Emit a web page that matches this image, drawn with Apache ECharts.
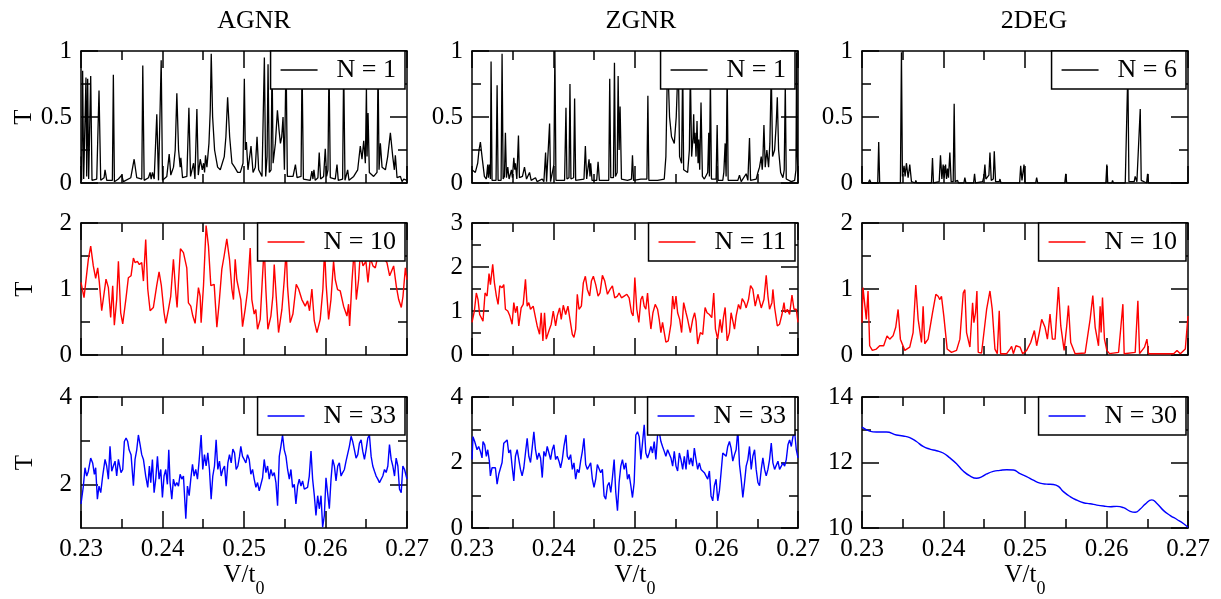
<!DOCTYPE html>
<html>
<head>
<meta charset="utf-8">
<script src="https://cdn.jsdelivr.net/npm/echarts@6/dist/echarts.min.js"></script>
<style>html,body{margin:0;padding:0;background:#fff}#c{width:1221px;height:599px}</style>
</head>
<body>
<div id="c"></div>
<script>
const panelTitles = ['AGNR', 'ZGNR', '2DEG'];
const xTickLabels = ['0.23', '0.24', '0.25', '0.26', '0.27'];
const seriesNames = ['N = 1', 'N = 1', 'N = 6', 'N = 10', 'N = 11', 'N = 10', 'N = 33', 'N = 33', 'N = 30'];

const agnrN1 = [[0.23000,0.20],[0.23008,0.02],[0.23020,0.85],[0.23033,0.03],[0.23049,0.04],[0.23061,0.80],[0.23070,0.05],[0.23082,0.79],[0.23094,0.03],[0.23119,0.81],[0.23135,0.02],[0.23193,0.03],[0.23221,0.70],[0.23242,0.02],[0.23283,0.04],[0.23295,0.10],[0.23316,0.02],[0.23385,0.02],[0.23397,0.82],[0.23410,0.01],[0.23459,0.03],[0.23500,0.06],[0.23520,0.01],[0.23611,0.04],[0.23652,0.18],[0.23684,0.04],[0.23746,0.03],[0.23758,0.89],[0.23775,0.02],[0.23828,0.04],[0.23848,0.08],[0.23861,0.03],[0.23877,0.08],[0.23898,0.03],[0.23930,0.52],[0.23951,0.02],[0.23984,0.93],[0.24000,0.02],[0.24053,0.05],[0.24082,0.22],[0.24102,0.06],[0.24135,0.12],[0.24156,0.25],[0.24176,0.68],[0.24197,0.25],[0.24217,0.12],[0.24225,0.19],[0.24246,0.04],[0.24299,0.05],[0.24324,0.57],[0.24344,0.05],[0.24381,0.15],[0.24398,0.03],[0.24422,0.56],[0.24439,0.06],[0.24463,0.18],[0.24488,0.10],[0.24504,0.15],[0.24516,0.08],[0.24528,0.21],[0.24545,0.12],[0.24570,0.30],[0.24586,0.55],[0.24598,0.98],[0.24615,0.50],[0.24639,0.25],[0.24676,0.12],[0.24709,0.10],[0.24729,0.09],[0.24758,0.20],[0.24778,0.35],[0.24799,0.65],[0.24824,0.35],[0.24852,0.15],[0.24885,0.12],[0.24922,0.08],[0.24955,0.08],[0.24988,0.15],[0.25004,0.79],[0.25016,0.25],[0.25029,0.31],[0.25049,0.10],[0.25086,0.28],[0.25111,0.08],[0.25139,0.12],[0.25160,0.35],[0.25180,0.10],[0.25221,0.05],[0.25250,0.95],[0.25266,0.05],[0.25283,0.20],[0.25295,0.90],[0.25311,0.08],[0.25332,0.10],[0.25344,0.95],[0.25357,0.15],[0.25385,0.30],[0.25410,0.55],[0.25430,0.40],[0.25447,0.30],[0.25463,0.35],[0.25479,0.50],[0.25496,0.10],[0.25516,0.95],[0.25532,0.05],[0.25602,0.05],[0.25631,0.14],[0.25651,0.04],[0.25700,0.05],[0.25712,0.90],[0.25729,0.03],[0.25813,0.02],[0.25833,0.09],[0.25846,0.03],[0.25858,0.10],[0.25874,0.02],[0.25907,0.04],[0.25923,0.23],[0.25940,0.03],[0.25977,0.05],[0.25997,0.26],[0.26014,0.05],[0.26030,0.10],[0.26043,0.90],[0.26059,0.04],[0.26120,0.03],[0.26141,0.14],[0.26157,0.02],[0.26210,0.03],[0.26223,0.90],[0.26239,0.02],[0.26272,0.10],[0.26288,0.02],[0.26346,0.05],[0.26395,0.10],[0.26427,0.28],[0.26448,0.18],[0.26469,0.32],[0.26489,0.15],[0.26502,0.72],[0.26510,0.20],[0.26522,0.53],[0.26538,0.08],[0.26591,0.05],[0.26632,0.08],[0.26645,0.90],[0.26657,0.10],[0.26673,0.30],[0.26694,0.12],[0.26735,0.10],[0.26763,0.20],[0.26796,0.38],[0.26825,0.20],[0.26845,0.10],[0.26857,0.21],[0.26878,0.04],[0.26919,0.05],[0.26939,0.01],[0.26960,0.03],[0.27000,0.02]];

const zgnrN1 = [[0.23000,0.10],[0.23041,0.08],[0.23070,0.15],[0.23086,0.25],[0.23103,0.31],[0.23123,0.20],[0.23152,0.05],[0.23176,0.03],[0.23193,0.14],[0.23201,0.04],[0.23213,0.14],[0.23226,0.03],[0.23234,0.92],[0.23246,0.02],[0.23295,0.02],[0.23308,0.74],[0.23320,0.02],[0.23357,0.02],[0.23369,0.98],[0.23382,0.03],[0.23398,0.05],[0.23410,0.38],[0.23423,0.04],[0.23439,0.12],[0.23455,0.03],[0.23484,0.10],[0.23496,0.04],[0.23513,0.19],[0.23525,0.10],[0.23533,0.15],[0.23550,0.03],[0.23570,0.36],[0.23582,0.04],[0.23619,0.05],[0.23644,0.12],[0.23669,0.03],[0.23706,0.08],[0.23726,0.02],[0.23779,0.04],[0.23800,0.01],[0.23862,0.03],[0.23882,0.01],[0.23903,0.23],[0.23915,0.01],[0.23939,0.02],[0.23952,0.45],[0.23964,0.01],[0.24005,0.14],[0.24017,1.00],[0.24030,0.02],[0.24136,0.02],[0.24153,0.57],[0.24165,0.03],[0.24190,0.04],[0.24202,0.75],[0.24214,0.03],[0.24247,0.04],[0.24259,0.64],[0.24272,0.02],[0.24292,0.02],[0.24374,0.03],[0.24391,0.28],[0.24407,0.03],[0.24436,0.18],[0.24448,0.05],[0.24456,0.15],[0.24473,0.02],[0.24530,0.02],[0.24547,0.16],[0.24563,0.02],[0.24678,0.02],[0.24690,0.79],[0.24703,0.04],[0.24735,0.04],[0.24748,0.91],[0.24760,0.05],[0.24781,0.08],[0.24793,0.81],[0.24805,0.25],[0.24817,0.58],[0.24834,0.03],[0.24908,0.02],[0.24957,0.03],[0.24969,0.21],[0.24982,0.02],[0.25072,0.03],[0.25146,0.03],[0.25158,0.66],[0.25170,0.02],[0.25277,0.02],[0.25359,0.03],[0.25379,0.20],[0.25400,0.95],[0.25424,0.50],[0.25448,0.35],[0.25482,0.30],[0.25506,0.50],[0.25531,0.95],[0.25547,0.20],[0.25572,0.15],[0.25585,0.90],[0.25597,0.10],[0.25646,0.08],[0.25667,0.25],[0.25679,0.85],[0.25695,0.20],[0.25712,0.35],[0.25720,0.52],[0.25728,0.30],[0.25737,0.38],[0.25749,0.20],[0.25761,0.47],[0.25774,0.15],[0.25782,0.33],[0.25794,0.10],[0.25810,0.61],[0.25827,0.05],[0.25851,0.03],[0.25892,0.08],[0.25905,0.38],[0.25913,0.05],[0.25925,0.80],[0.25938,0.03],[0.25995,0.03],[0.26008,0.44],[0.26020,0.02],[0.26077,0.02],[0.26090,0.08],[0.26106,0.30],[0.26118,0.05],[0.26131,0.85],[0.26143,0.02],[0.26262,0.02],[0.26282,0.06],[0.26303,0.01],[0.26364,0.07],[0.26385,0.02],[0.26405,0.34],[0.26418,0.02],[0.26487,0.03],[0.26508,0.08],[0.26528,0.12],[0.26549,0.20],[0.26561,0.10],[0.26569,0.18],[0.26582,0.44],[0.26598,0.12],[0.26618,0.25],[0.26639,0.12],[0.26655,0.30],[0.26672,0.85],[0.26688,0.20],[0.26713,0.25],[0.26733,0.45],[0.26746,0.65],[0.26762,0.25],[0.26787,0.08],[0.26815,0.04],[0.26831,0.10],[0.26844,0.75],[0.26856,0.03],[0.26918,0.01],[0.26959,0.02],[0.26975,0.10],[0.26983,0.99],[0.26992,0.20],[0.27000,0.05]];

const degN6 = [[0.23000,0.00],[0.23078,0.00],[0.23094,0.025],[0.23111,0.00],[0.23193,0.00],[0.23205,0.31],[0.23217,0.00],[0.23471,0.00],[0.23484,0.99],[0.23496,0.05],[0.23516,0.13],[0.23529,0.05],[0.23545,0.15],[0.23566,0.04],[0.23586,0.14],[0.23607,0.01],[0.23652,0.00],[0.23660,0.02],[0.23672,0.00],[0.23852,0.00],[0.23865,0.19],[0.23877,0.00],[0.23947,0.01],[0.23963,0.21],[0.23980,0.03],[0.23996,0.14],[0.24008,0.04],[0.24025,0.14],[0.24037,0.03],[0.24049,0.11],[0.24061,0.04],[0.24078,0.23],[0.24094,0.01],[0.24119,0.01],[0.24131,0.60],[0.24143,0.01],[0.24172,0.02],[0.24184,0.00],[0.24250,0.00],[0.24262,0.04],[0.24275,0.00],[0.24369,0.00],[0.24381,0.07],[0.24393,0.00],[0.24480,0.01],[0.24496,0.05],[0.24508,0.14],[0.24520,0.03],[0.24537,0.02],[0.24557,0.06],[0.24570,0.23],[0.24586,0.02],[0.24611,0.03],[0.24623,0.24],[0.24639,0.01],[0.24684,0.01],[0.24693,0.03],[0.24705,0.00],[0.24934,0.00],[0.24947,0.13],[0.24963,0.02],[0.24975,0.01],[0.24988,0.14],[0.25000,0.00],[0.25131,0.00],[0.25143,0.04],[0.25156,0.00],[0.25488,0.00],[0.25500,0.07],[0.25512,0.00],[0.25561,0.00],[0.25574,0.01],[0.25586,0.00],[0.25992,0.00],[0.26004,0.14],[0.26016,0.00],[0.26066,0.00],[0.26074,0.02],[0.26086,0.00],[0.26230,0.00],[0.26250,0.01],[0.26262,0.85],[0.26275,0.01],[0.26340,0.01],[0.26352,0.05],[0.26373,0.01],[0.26393,0.02],[0.26414,0.56],[0.26426,0.02],[0.26492,0.00],[0.26504,0.07],[0.26516,0.00],[0.27000,0.00]];

const agnrN10 = [[0.23000,1.10],[0.23037,0.87],[0.23061,0.89],[0.23090,1.45],[0.23119,1.65],[0.23151,1.35],[0.23180,1.16],[0.23205,1.32],[0.23225,1.10],[0.23254,0.67],[0.23307,1.15],[0.23336,1.02],[0.23364,0.57],[0.23389,1.05],[0.23409,0.45],[0.23438,0.84],[0.23459,1.42],[0.23487,0.64],[0.23512,0.47],[0.23553,0.87],[0.23581,1.17],[0.23614,1.20],[0.23643,1.47],[0.23663,1.40],[0.23692,1.42],[0.23716,1.37],[0.23745,1.40],[0.23766,1.12],[0.23794,1.75],[0.23819,1.00],[0.23848,0.67],[0.23888,0.72],[0.23929,1.05],[0.23958,1.26],[0.23986,1.05],[0.24019,0.64],[0.24040,0.48],[0.24073,0.69],[0.24101,0.89],[0.24134,1.45],[0.24163,0.94],[0.24179,0.72],[0.24200,1.19],[0.24220,1.61],[0.24257,1.55],[0.24298,1.32],[0.24318,0.79],[0.24347,0.74],[0.24372,0.59],[0.24400,0.48],[0.24441,1.02],[0.24462,0.89],[0.24474,0.49],[0.24503,1.05],[0.24535,1.96],[0.24564,1.65],[0.24593,1.05],[0.24634,1.07],[0.24667,0.42],[0.24695,0.79],[0.24728,1.30],[0.24756,1.50],[0.24789,1.76],[0.24822,1.45],[0.24851,1.00],[0.24871,0.84],[0.24892,1.45],[0.24912,1.14],[0.24932,1.12],[0.24961,0.84],[0.24982,0.43],[0.25014,0.69],[0.25043,0.97],[0.25076,1.62],[0.25096,0.84],[0.25125,0.62],[0.25145,0.69],[0.25166,0.39],[0.25199,0.54],[0.25223,1.10],[0.25248,1.65],[0.25268,1.00],[0.25293,0.39],[0.25330,0.59],[0.25354,0.89],[0.25371,1.37],[0.25395,0.89],[0.25424,0.34],[0.25465,0.69],[0.25494,1.14],[0.25518,1.60],[0.25534,1.04],[0.25567,0.49],[0.25600,0.62],[0.25641,1.07],[0.25670,1.00],[0.25710,0.84],[0.25751,0.74],[0.25780,0.82],[0.25804,0.67],[0.25833,1.00],[0.25862,0.52],[0.25895,0.34],[0.25935,0.54],[0.25968,1.00],[0.25989,1.60],[0.26009,1.05],[0.26038,0.54],[0.26067,0.84],[0.26099,1.42],[0.26120,1.14],[0.26148,0.99],[0.26181,0.97],[0.26222,0.74],[0.26263,0.59],[0.26283,0.77],[0.26296,0.44],[0.26324,1.10],[0.26353,1.62],[0.26378,0.84],[0.26406,1.14],[0.26427,1.55],[0.26460,1.35],[0.26496,1.42],[0.26521,1.10],[0.26550,1.47],[0.26582,1.35],[0.26611,1.32],[0.26652,1.55],[0.26713,1.47],[0.26754,1.40],[0.26787,1.20],[0.26836,1.35],[0.26869,1.04],[0.26898,0.84],[0.26930,0.72],[0.26951,0.89],[0.26980,1.32],[0.27000,1.14]];

const zgnrN11 = [[0.23000,0.74],[0.23029,1.00],[0.23053,1.41],[0.23074,1.26],[0.23094,0.92],[0.23115,0.96],[0.23135,0.77],[0.23160,1.41],[0.23185,1.34],[0.23209,1.85],[0.23226,1.60],[0.23254,2.06],[0.23275,1.64],[0.23299,1.34],[0.23320,1.15],[0.23341,1.57],[0.23369,1.53],[0.23390,1.60],[0.23410,1.04],[0.23439,1.00],[0.23464,0.89],[0.23492,0.70],[0.23513,1.19],[0.23533,0.96],[0.23554,1.11],[0.23574,0.66],[0.23603,1.07],[0.23628,1.15],[0.23656,1.72],[0.23677,1.11],[0.23697,1.19],[0.23718,1.04],[0.23751,1.11],[0.23779,0.85],[0.23800,0.66],[0.23829,0.47],[0.23849,0.96],[0.23870,0.32],[0.23890,0.96],[0.23911,0.36],[0.23944,0.55],[0.23972,0.70],[0.23997,1.00],[0.24026,0.66],[0.24046,0.89],[0.24075,1.07],[0.24095,0.81],[0.24120,1.13],[0.24149,0.92],[0.24177,1.11],[0.24202,0.81],[0.24231,0.47],[0.24251,0.40],[0.24272,0.59],[0.24292,1.38],[0.24313,1.04],[0.24342,1.11],[0.24366,1.64],[0.24391,1.79],[0.24415,1.49],[0.24444,1.34],[0.24465,1.68],[0.24489,1.79],[0.24518,1.60],[0.24547,1.34],[0.24571,1.41],[0.24600,1.81],[0.24629,1.68],[0.24662,1.38],[0.24694,1.49],[0.24723,1.57],[0.24751,1.30],[0.24785,1.34],[0.24805,1.41],[0.24834,1.30],[0.24867,1.34],[0.24900,1.38],[0.24928,1.30],[0.24957,0.96],[0.24977,0.89],[0.24998,1.76],[0.25022,1.04],[0.25047,0.74],[0.25072,1.26],[0.25092,1.34],[0.25113,1.11],[0.25133,1.04],[0.25154,1.41],[0.25174,0.96],[0.25195,0.59],[0.25220,0.96],[0.25248,1.15],[0.25277,1.04],[0.25297,0.81],[0.25318,0.51],[0.25338,0.74],[0.25359,0.77],[0.25379,0.29],[0.25408,0.32],[0.25441,0.70],[0.25462,1.34],[0.25482,1.04],[0.25503,1.34],[0.25523,0.96],[0.25548,0.81],[0.25572,0.51],[0.25597,1.19],[0.25626,0.96],[0.25646,0.81],[0.25679,0.51],[0.25708,0.81],[0.25732,0.96],[0.25749,0.77],[0.25769,0.25],[0.25802,0.51],[0.25831,0.47],[0.25860,1.08],[0.25884,0.96],[0.25913,0.92],[0.25942,0.85],[0.25966,1.41],[0.25987,0.59],[0.26015,0.36],[0.26044,0.81],[0.26065,0.51],[0.26085,0.85],[0.26106,1.08],[0.26131,0.32],[0.26159,0.51],[0.26179,0.96],[0.26204,0.74],[0.26221,0.59],[0.26241,0.89],[0.26270,1.15],[0.26294,1.04],[0.26315,1.28],[0.26344,1.19],[0.26364,1.07],[0.26393,1.26],[0.26418,1.58],[0.26446,1.49],[0.26475,1.11],[0.26508,1.38],[0.26528,1.23],[0.26549,1.07],[0.26582,1.26],[0.26610,1.81],[0.26631,1.34],[0.26651,1.04],[0.26680,1.19],[0.26692,1.49],[0.26713,1.08],[0.26746,0.66],[0.26774,0.70],[0.26803,0.92],[0.26828,1.19],[0.26844,0.96],[0.26869,1.04],[0.26897,0.92],[0.26926,1.36],[0.26951,1.04],[0.26979,1.04],[0.27000,0.74]];

const degN10 = [[0.23000,0.49],[0.23012,1.02],[0.23033,0.99],[0.23053,0.54],[0.23074,0.97],[0.23094,0.14],[0.23127,0.07],[0.23176,0.09],[0.23217,0.14],[0.23266,0.14],[0.23307,0.29],[0.23340,0.24],[0.23381,0.29],[0.23414,0.42],[0.23443,0.69],[0.23471,0.24],[0.23525,0.07],[0.23586,0.12],[0.23627,0.34],[0.23660,1.06],[0.23689,0.54],[0.23730,0.19],[0.23750,0.74],[0.23770,0.17],[0.23811,0.24],[0.23865,0.64],[0.23906,0.92],[0.23934,0.89],[0.23955,0.84],[0.23975,0.89],[0.24004,0.59],[0.24045,0.09],[0.24098,0.04],[0.24160,0.07],[0.24201,0.24],[0.24242,0.94],[0.24262,0.99],[0.24283,0.34],[0.24324,0.12],[0.24357,0.79],[0.24373,0.49],[0.24393,0.64],[0.24410,0.97],[0.24426,0.04],[0.24467,0.03],[0.24529,0.69],[0.24570,0.97],[0.24598,0.69],[0.24631,0.09],[0.24660,0.02],[0.24684,0.67],[0.24701,0.02],[0.24775,0.02],[0.24816,0.09],[0.24836,0.13],[0.24857,0.02],[0.24889,0.14],[0.24939,0.12],[0.24971,0.02],[0.25020,0.07],[0.25070,0.19],[0.25115,0.37],[0.25143,0.14],[0.25176,0.34],[0.25205,0.54],[0.25246,0.42],[0.25275,0.24],[0.25307,0.62],[0.25336,0.24],[0.25369,0.24],[0.25410,1.03],[0.25439,0.44],[0.25480,0.07],[0.25512,0.44],[0.25533,0.75],[0.25561,0.19],[0.25615,0.02],[0.25738,0.03],[0.25799,0.54],[0.25832,0.90],[0.25861,0.42],[0.25902,0.14],[0.25922,0.74],[0.25934,0.34],[0.25951,0.87],[0.25975,0.24],[0.26004,0.07],[0.26037,0.02],[0.26148,0.04],[0.26176,0.42],[0.26201,0.77],[0.26217,0.02],[0.26352,0.04],[0.26385,0.82],[0.26406,0.02],[0.26467,0.12],[0.26496,0.24],[0.26516,0.02],[0.26824,0.02],[0.26865,0.07],[0.26906,0.02],[0.26967,0.09],[0.27000,0.59]];

const agnrN33 = [[0.23000,1.55],[0.23029,1.96],[0.23049,2.38],[0.23070,2.19],[0.23090,2.30],[0.23119,2.60],[0.23143,2.49],[0.23164,2.23],[0.23180,2.38],[0.23201,1.66],[0.23221,1.96],[0.23242,1.81],[0.23266,2.19],[0.23295,2.57],[0.23315,2.42],[0.23336,2.12],[0.23356,2.87],[0.23377,2.30],[0.23397,2.42],[0.23418,2.53],[0.23438,2.19],[0.23459,2.57],[0.23471,2.61],[0.23491,2.27],[0.23512,2.34],[0.23532,2.98],[0.23553,3.06],[0.23573,2.98],[0.23590,2.79],[0.23614,2.68],[0.23643,1.97],[0.23663,2.57],[0.23684,2.79],[0.23704,3.13],[0.23725,2.91],[0.23745,2.68],[0.23766,2.57],[0.23794,2.19],[0.23819,1.93],[0.23839,2.42],[0.23856,2.04],[0.23876,2.57],[0.23897,1.81],[0.23917,2.12],[0.23938,2.64],[0.23958,2.12],[0.23979,2.34],[0.23999,1.70],[0.24019,2.19],[0.24040,2.34],[0.24060,2.00],[0.24077,2.79],[0.24093,2.04],[0.24114,1.66],[0.24134,2.12],[0.24155,1.96],[0.24175,2.04],[0.24196,1.96],[0.24216,2.23],[0.24237,2.12],[0.24257,2.19],[0.24286,1.21],[0.24306,1.96],[0.24327,1.74],[0.24347,2.12],[0.24368,2.46],[0.24388,2.19],[0.24408,2.34],[0.24429,2.12],[0.24449,2.53],[0.24474,3.13],[0.24494,2.34],[0.24515,2.68],[0.24535,2.42],[0.24556,2.72],[0.24576,2.34],[0.24597,1.66],[0.24617,2.19],[0.24638,2.42],[0.24658,3.02],[0.24679,2.34],[0.24699,2.53],[0.24720,2.19],[0.24740,2.34],[0.24761,2.42],[0.24781,1.96],[0.24802,2.49],[0.24822,2.68],[0.24843,2.49],[0.24863,2.81],[0.24884,2.72],[0.24904,2.34],[0.24925,2.42],[0.24945,2.64],[0.24961,2.87],[0.24982,2.64],[0.25002,2.57],[0.25023,2.49],[0.25043,2.68],[0.25064,2.57],[0.25084,2.23],[0.25105,2.34],[0.25125,2.12],[0.25146,1.93],[0.25166,2.04],[0.25187,1.85],[0.25207,1.89],[0.25228,2.15],[0.25248,2.57],[0.25269,2.27],[0.25289,2.42],[0.25310,2.12],[0.25330,2.34],[0.25351,2.19],[0.25371,2.27],[0.25392,2.04],[0.25412,1.51],[0.25433,2.64],[0.25453,2.87],[0.25473,3.13],[0.25494,2.79],[0.25515,2.64],[0.25535,2.34],[0.25556,2.12],[0.25576,2.34],[0.25596,1.93],[0.25617,2.00],[0.25637,1.55],[0.25658,1.96],[0.25678,2.12],[0.25699,1.96],[0.25719,2.08],[0.25740,1.89],[0.25760,1.85],[0.25780,1.93],[0.25801,2.19],[0.25822,2.76],[0.25842,2.12],[0.25863,1.74],[0.25883,1.29],[0.25904,1.74],[0.25924,1.44],[0.25945,1.74],[0.25965,1.02],[0.25986,1.29],[0.26006,2.15],[0.26027,2.12],[0.26047,1.44],[0.26068,2.12],[0.26088,2.57],[0.26109,2.42],[0.26129,2.08],[0.26150,2.42],[0.26170,2.49],[0.26191,2.19],[0.26211,2.27],[0.26232,2.34],[0.26252,2.53],[0.26273,2.57],[0.26293,2.87],[0.26314,3.10],[0.26334,2.98],[0.26355,2.79],[0.26375,2.60],[0.26396,2.68],[0.26416,2.94],[0.26437,3.02],[0.26457,2.76],[0.26478,2.57],[0.26498,2.79],[0.26519,3.06],[0.26539,3.13],[0.26560,2.64],[0.26580,2.42],[0.26601,2.30],[0.26621,2.19],[0.26642,2.12],[0.26662,2.04],[0.26683,2.08],[0.26703,2.19],[0.26724,2.34],[0.26744,2.27],[0.26765,2.42],[0.26785,2.91],[0.26806,2.57],[0.26826,2.42],[0.26847,2.19],[0.26867,2.60],[0.26888,2.42],[0.26908,1.89],[0.26929,1.81],[0.26949,2.42],[0.26970,2.34],[0.26990,2.19],[0.27000,2.12]];

const zgnrN33 = [[0.23000,2.09],[0.23012,2.79],[0.23033,2.64],[0.23062,2.39],[0.23082,2.49],[0.23103,2.34],[0.23123,2.14],[0.23135,2.64],[0.23156,2.54],[0.23176,2.19],[0.23193,2.39],[0.23213,2.04],[0.23226,1.59],[0.23246,1.84],[0.23267,1.89],[0.23287,1.84],[0.23308,1.34],[0.23328,1.64],[0.23349,1.69],[0.23369,2.00],[0.23390,2.59],[0.23410,2.54],[0.23431,2.69],[0.23451,2.29],[0.23472,2.39],[0.23492,1.89],[0.23513,1.44],[0.23533,2.19],[0.23554,2.39],[0.23574,2.44],[0.23595,1.79],[0.23615,1.59],[0.23636,1.84],[0.23656,2.29],[0.23677,2.74],[0.23697,2.19],[0.23718,2.00],[0.23738,2.44],[0.23759,2.94],[0.23779,2.39],[0.23800,2.09],[0.23821,2.29],[0.23841,2.14],[0.23862,1.54],[0.23882,2.34],[0.23903,2.19],[0.23923,2.49],[0.23944,2.29],[0.23964,2.09],[0.23985,2.39],[0.24005,2.54],[0.24026,2.09],[0.24046,2.19],[0.24067,2.04],[0.24087,1.84],[0.24108,2.09],[0.24128,2.49],[0.24153,2.84],[0.24169,2.19],[0.24190,2.09],[0.24210,2.24],[0.24231,1.79],[0.24251,1.99],[0.24272,1.49],[0.24292,1.79],[0.24313,1.69],[0.24333,2.04],[0.24354,2.34],[0.24374,2.74],[0.24395,1.94],[0.24415,1.79],[0.24436,1.89],[0.24456,1.99],[0.24477,1.49],[0.24497,1.24],[0.24518,1.49],[0.24538,1.94],[0.24559,1.89],[0.24579,1.69],[0.24600,1.79],[0.24621,0.98],[0.24641,0.88],[0.24662,1.29],[0.24682,1.39],[0.24703,1.09],[0.24723,1.54],[0.24744,2.09],[0.24764,1.09],[0.24785,0.53],[0.24805,1.39],[0.24826,1.89],[0.24846,2.09],[0.24867,1.79],[0.24887,1.99],[0.24908,1.49],[0.24928,1.64],[0.24949,1.29],[0.24969,0.93],[0.24990,1.39],[0.25010,2.84],[0.25031,2.94],[0.25051,2.79],[0.25072,2.09],[0.25092,2.59],[0.25113,3.15],[0.25133,2.29],[0.25154,2.14],[0.25174,2.29],[0.25195,2.49],[0.25215,2.29],[0.25236,2.64],[0.25256,2.09],[0.25277,2.84],[0.25297,2.94],[0.25318,2.64],[0.25338,2.49],[0.25359,2.34],[0.25379,2.19],[0.25400,2.39],[0.25421,2.34],[0.25441,2.14],[0.25462,1.89],[0.25482,2.34],[0.25503,1.89],[0.25523,1.74],[0.25544,2.29],[0.25564,2.09],[0.25585,1.79],[0.25605,2.19],[0.25626,1.79],[0.25646,2.39],[0.25667,1.94],[0.25687,2.14],[0.25708,1.89],[0.25728,2.44],[0.25749,2.09],[0.25769,1.79],[0.25790,1.99],[0.25810,1.79],[0.25831,1.84],[0.25851,1.69],[0.25872,1.69],[0.25892,1.49],[0.25913,1.74],[0.25933,0.98],[0.25954,0.83],[0.25974,1.29],[0.25995,1.49],[0.26015,0.83],[0.26036,1.14],[0.26056,1.69],[0.26077,2.29],[0.26097,2.34],[0.26118,2.19],[0.26138,2.49],[0.26159,2.64],[0.26179,2.44],[0.26200,2.04],[0.26221,2.24],[0.26241,2.39],[0.26262,2.99],[0.26282,1.94],[0.26303,1.49],[0.26323,0.93],[0.26344,1.39],[0.26364,1.89],[0.26385,2.09],[0.26405,2.49],[0.26426,1.79],[0.26446,2.19],[0.26467,2.39],[0.26487,1.79],[0.26508,1.39],[0.26528,1.29],[0.26549,1.79],[0.26569,2.14],[0.26590,1.79],[0.26610,1.59],[0.26631,1.79],[0.26651,2.09],[0.26672,2.59],[0.26692,1.99],[0.26713,1.79],[0.26733,1.84],[0.26754,2.04],[0.26774,1.79],[0.26795,1.89],[0.26815,1.99],[0.26836,1.89],[0.26856,2.09],[0.26877,2.54],[0.26897,2.69],[0.26918,2.49],[0.26938,2.79],[0.26959,2.94],[0.26979,2.39],[0.27000,2.14]];

const degN30 = [[0.23000,13.08],[0.23094,12.96],[0.23176,12.93],[0.23299,12.93],[0.23422,12.84],[0.23504,12.81],[0.23586,12.76],[0.23668,12.64],[0.23750,12.49],[0.23832,12.41],[0.23914,12.36],[0.23996,12.29],[0.24078,12.14],[0.24160,11.96],[0.24242,11.74],[0.24324,11.59],[0.24406,11.52],[0.24467,11.56],[0.24529,11.65],[0.24611,11.73],[0.24693,11.76],[0.24775,11.78],[0.24857,11.77],[0.24939,11.66],[0.25020,11.57],[0.25102,11.46],[0.25184,11.37],[0.25266,11.34],[0.25348,11.33],[0.25410,11.27],[0.25471,11.11],[0.25553,10.96],[0.25635,10.85],[0.25717,10.77],[0.25799,10.74],[0.25881,10.70],[0.25963,10.67],[0.26045,10.65],[0.26127,10.66],[0.26209,10.62],[0.26291,10.51],[0.26352,10.48],[0.26414,10.58],[0.26475,10.73],[0.26557,10.86],[0.26619,10.75],[0.26701,10.53],[0.26783,10.38],[0.26865,10.26],[0.26947,10.13],[0.27000,10.02]];

const seriesData = [agnrN1, zgnrN1, degN6, agnrN10, zgnrN11, degN10, agnrN33, zgnrN33, degN30];
const seriesColors = ['#000000', '#000000', '#000000', '#ff0000', '#ff0000', '#ff0000', '#0000ff', '#0000ff', '#0000ff'];
// y ranges: [min, max, interval]
const yRanges = [[0,1,0.5],[0,1,0.5],[0,1,0.5],[0,2,1],[0,3,1],[0,2,1],[1,4,2],[0,4,2],[10,14,2]];
const yMajorTicksSpecial = [2, 4];
const yMinorTicksSpecial = [3];

const FONT = 'Liberation Serif';
const colLeft = [81, 472, 862];
const rowTop = [51, 223, 397];
const GW = 326, GH = 132;
const legendRight = [816, 426, 35];
const titleCenter = [249, 636, 1029];

const black = '#000';
const grids = [], xAxes = [], yAxes = [], series = [], legends = [], titles = [];

for (let i = 0; i < 9; i++) {
  const r = Math.floor(i / 3), c = i % 3;
  grids.push({left: colLeft[c], top: rowTop[r], width: GW, height: GH, containLabel: false});
  const bottomRow = r === 2;
  const baseX = {
    type: 'value', gridIndex: i, min: 0.23, max: 0.27, interval: 0.01,
    axisLine: {show: true, onZero: false, lineStyle: {color: black, width: 1.5}},
    axisTick: {show: true, inside: true, length: 17, lineStyle: {color: black, width: 1.5}},
    minorTick: {show: true, splitNumber: 2, length: 9, lineStyle: {color: black, width: 1.5}},
    splitLine: {show: false}, minorSplitLine: {show: false}
  };
  xAxes.push(Object.assign({}, baseX, {
    position: 'bottom',
    axisLabel: {show: bottomRow, margin: 9, color: black, fontFamily: FONT, fontSize: 25,
      formatter: v => xTickLabels[Math.round((v - 0.23) / 0.01)]},
    name: bottomRow ? '{m|V/t}{s|0}' : '', nameLocation: 'middle', nameGap: 35,
    nameTextStyle: {rich: {
      m: {fontFamily: FONT, fontSize: 25, lineHeight: 25, verticalAlign: 'top', color: black},
      s: {fontFamily: FONT, fontSize: 18, lineHeight: 18, padding: [17, 0, 0, 0], verticalAlign: 'top', color: black}
    }}
  }));
  xAxes.push(Object.assign({}, baseX, {position: 'top', axisLabel: {show: false}}));

  const [ymin, ymax, yint] = yRanges[i];
  const special = i === 6;
  const baseY = {
    type: 'value', gridIndex: i, min: ymin, max: ymax, interval: special ? 1 : yint,
    axisLine: {show: true, onZero: false, lineStyle: {color: black, width: 1.5}},
    axisTick: {show: true, inside: true, length: 17, lineStyle: {color: black, width: 1.5}},
    minorTick: {show: !special, splitNumber: 2, length: 9, lineStyle: {color: black, width: 1.5}},
    splitLine: {show: false}, minorSplitLine: {show: false}
  };
  if (special) baseY.axisTick = Object.assign({}, baseY.axisTick, {customValues: yMajorTicksSpecial});
  const leftLabel = {show: true, margin: 9, color: black, fontFamily: FONT, fontSize: 25};
  if (special) leftLabel.customValues = yMajorTicksSpecial;
  yAxes.push(Object.assign({}, baseY, {
    position: 'left', axisLabel: leftLabel,
    name: c === 0 ? 'T' : '', nameLocation: 'middle', nameGap: 43, nameRotate: 90,
    nameTextStyle: {fontFamily: FONT, fontSize: 25, color: black}
  }));
  yAxes.push(Object.assign({}, baseY, {position: 'right', axisLabel: {show: false}}));

  series.push({
    type: 'line', name: seriesNames[i], xAxisIndex: 2 * i, yAxisIndex: 2 * i,
    data: seriesData[i], symbol: 'none', showSymbol: false, smooth: i === 8,
    lineStyle: {color: seriesColors[i], width: r === 0 ? 1.3 : 1.4},
    itemStyle: {color: seriesColors[i]}, clip: true, animation: false, z: 1
  });

  legends.push({
    data: [{name: seriesNames[i], icon: 'rect'}], right: legendRight[c], top: rowTop[r],
    orient: 'horizontal', itemWidth: 37, itemHeight: 1.5,
    padding: [6, 9, 6, 10], backgroundColor: '#fff', borderColor: black, borderWidth: 1.5, borderRadius: 0,
    textStyle: {fontFamily: FONT, fontSize: 26, color: black, padding: [0, 0, 0, 14]},
    selectedMode: false, z: 10
  });
}
// extra minor ticks for the AGNR N=33 panel (ticks at 3)
for (const pos of ['left', 'right']) {
  yAxes.push({
    type: 'value', gridIndex: 6, min: 1, max: 4, interval: 1, position: pos,
    axisLine: {show: false},
    axisTick: {show: true, inside: true, length: 9, customValues: yMinorTicksSpecial, lineStyle: {color: black, width: 1.5}},
    axisLabel: {show: false}, splitLine: {show: false}
  });
}
for (let c = 0; c < 3; c++) {
  titles.push({text: panelTitles[c], left: titleCenter[c], top: 3, textAlign: 'center',
    textStyle: {fontFamily: FONT, fontSize: 26, fontWeight: 'normal', color: black}});
}

const chart = echarts.init(document.getElementById('c'), null, {renderer: 'canvas'});
chart.setOption({
  backgroundColor: '#fff', animation: false,
  title: titles, grid: grids, xAxis: xAxes, yAxis: yAxes, series: series, legend: legends
});
</script>
</body>
</html>
